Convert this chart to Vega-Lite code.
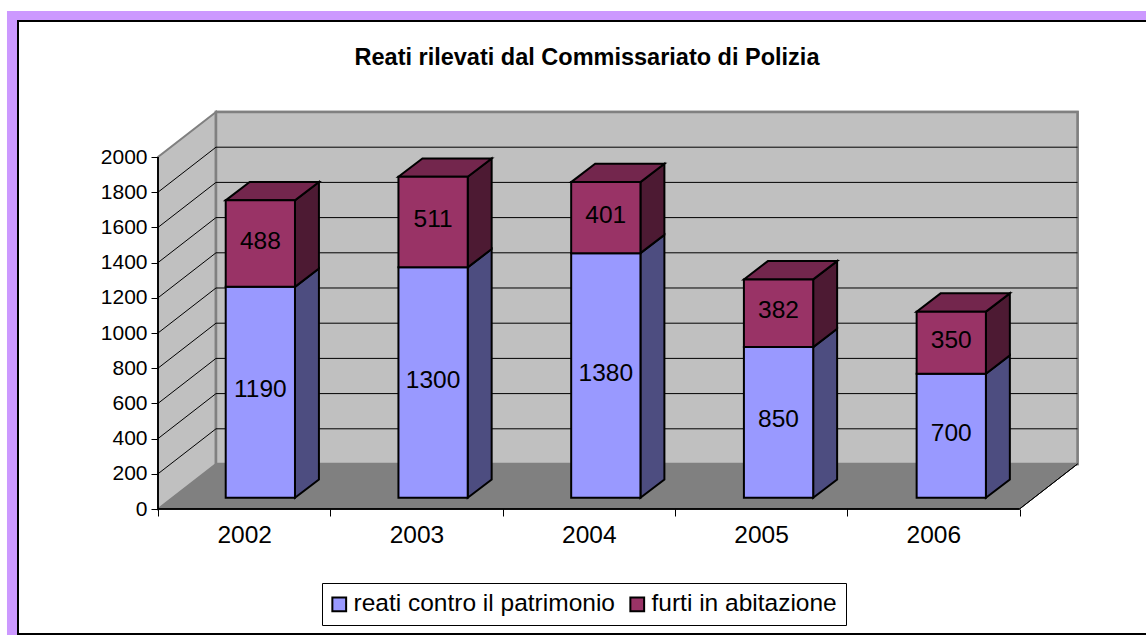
{
"$schema":"https://vega.github.io/schema/vega-lite/v6.json",
"width":920,"height":397,
"autosize":{"type":"none"},
"padding":{"left":158,"top":112,"right":68,"bottom":126},
"background":"white",
"title":{"text":"Reati rilevati dal Commissariato di Polizia","anchor":"middle","frame":"group","dx":-31,"offset":-82,"font":"Liberation Sans","fontSize":23.5,"fontWeight":"bold","color":"black","baseline":"bottom"},
"config":{"view":{"stroke":null},"font":"Liberation Sans","axis":{"labelOverlap":false}},
"datasets":{
"crimes":[
{"year":2002,"series":"reati contro il patrimonio","value":1190},
{"year":2002,"series":"furti in abitazione","value":488},
{"year":2003,"series":"reati contro il patrimonio","value":1300},
{"year":2003,"series":"furti in abitazione","value":511},
{"year":2004,"series":"reati contro il patrimonio","value":1380},
{"year":2004,"series":"furti in abitazione","value":401},
{"year":2005,"series":"reati contro il patrimonio","value":850},
{"year":2005,"series":"furti in abitazione","value":382},
{"year":2006,"series":"reati contro il patrimonio","value":700},
{"year":2006,"series":"furti in abitazione","value":350}],
"depth":[{"p":0},{"p":1}],
"grid":[{"v":200},{"v":400},{"v":600},{"v":800},{"v":1000},{"v":1200},{"v":1400},{"v":1600},{"v":1800}]
},
"layer":[
{"data":{"name":"depth"},"mark":{"type":"rect","fill":"#CC99FF"},
 "encoding":{
  "x":{"datum":-0.8764,"type":"quantitative","scale":{"domain":[0,5.3395],"nice":false,"zero":false},
   "axis":{"title":null,"values":[0,0.5,1,1.5,2,2.5,3,3.5,4,4.5,5],"tickCount":11,"grid":false,"domain":false,"zindex":1,"tickColor":"black","tickSize":{"condition":{"test":"datum.value % 1 == 0","value":7},"value":0},"labelExpr":"datum.value % 1 == 0 ? '' : '' + (2002 + floor(datum.value))","labelFontSize":24.5,"labelColor":"black","labelPadding":14,"labelOverlap":false,"labelFlush":false,"labelAngle":0}},
  "x2":{"datum":5.76},
  "y":{"datum":2829.5,"type":"quantitative","scale":{"domain":[0,2255.7],"nice":false,"zero":false},
   "axis":{"title":null,"values":[0,200,400,600,800,1000,1200,1400,1600,1800,2000],"tickCount":11,"format":"d","grid":false,"domain":false,"zindex":1,"tickColor":"black","tickSize":7,"labelFontSize":21,"labelColor":"black","labelPadding":4,"labelOverlap":false,"labelFlush":false}},
  "y2":{"datum":-730}}},
{"data":{"name":"depth"},"mark":{"type":"rect","fill":"white","stroke":"black","strokeWidth":2},
 "encoding":{"x":{"datum":-0.8125,"type":"quantitative"},"x2":{"datum":5.76},"y":{"datum":2772.7,"type":"quantitative"},"y2":{"datum":-710}}},
{"data":{"name":"depth"},"transform":[{"calculate":"datum.p*0.3366","as":"xx"},{"calculate":"datum.p*255.7","as":"y0"},{"calculate":"2000+datum.p*255.7","as":"y1"}],
 "mark":{"type":"area","fill":"#C0C0C0","stroke":"#808080","strokeWidth":2,"orient":"vertical"},
 "encoding":{"x":{"field":"xx","type":"quantitative"},"y":{"field":"y0","type":"quantitative"},"y2":{"field":"y1"}}},
{"data":{"name":"depth"},"mark":{"type":"rect","fill":"#C0C0C0","stroke":"#808080","strokeWidth":2.5},
 "encoding":{"x":{"datum":0.3366,"type":"quantitative"},"x2":{"datum":5.3366},"y":{"datum":255.7,"type":"quantitative"},"y2":{"datum":2255.7}}},
{"data":{"name":"depth"},"transform":[{"calculate":"datum.p*0.3366","as":"xa"},{"calculate":"5+datum.p*0.3366","as":"xb"},{"calculate":"datum.p*255.7","as":"yy"}],
 "mark":{"type":"area","fill":"#808080","orient":"horizontal"},
 "encoding":{"y":{"field":"yy","type":"quantitative"},"x":{"field":"xa","type":"quantitative"},"x2":{"field":"xb"}}},
{"data":{"name":"grid"},"transform":[{"calculate":"datum.v+255.7","as":"vb"}],"mark":{"type":"rule","stroke":"black","strokeWidth":1},
 "encoding":{"x":{"datum":0,"type":"quantitative"},"x2":{"datum":0.3366},"y":{"field":"v","type":"quantitative"},"y2":{"field":"vb"}}},
{"data":{"name":"grid"},"transform":[{"calculate":"datum.v+255.7","as":"vb"}],"mark":{"type":"rule","stroke":"black","strokeWidth":1},
 "encoding":{"x":{"datum":0.3366,"type":"quantitative"},"x2":{"datum":5.3366},"y":{"field":"vb","type":"quantitative"}}},
{"data":{"name":"depth"},"mark":{"type":"rule","stroke":"black","strokeWidth":1},
 "encoding":{"x":{"datum":5,"type":"quantitative"},"x2":{"datum":5.3366},"y":{"datum":0,"type":"quantitative"},"y2":{"datum":255.7}}},
{"data":{"name":"depth"},"mark":{"type":"rule","stroke":"black","strokeWidth":1.5},
 "encoding":{"x":{"datum":0,"type":"quantitative"},"y":{"datum":0,"type":"quantitative"},"y2":{"datum":2000}}},
{"data":{"name":"depth"},"mark":{"type":"rule","stroke":"black","strokeWidth":1.5},
 "encoding":{"x":{"datum":0,"type":"quantitative"},"x2":{"datum":5},"y":{"datum":0,"type":"quantitative"}}},
{"data":{"name":"crimes"},
 "transform":[
  {"stack":"value","groupby":["year"],"sort":[{"field":"series","order":"descending"}],"as":["s0","s1"]},
  {"calculate":"(datum.year-2002)*1.0025+0.393","as":"x0"},
  {"calculate":"datum.x0+0.402","as":"x1"},
  {"calculate":"datum.s0*1.007+64","as":"b0"},
  {"calculate":"datum.s1*1.007+64","as":"b1"},
  {"calculate":"(datum.b0+datum.b1)/2+11","as":"bm"},
  {"calculate":"(datum.x0+datum.x1)/2","as":"xm"}
 ],
 "layer":[
  {"transform":[{"calculate":"[0,1]","as":"ps"},{"flatten":["ps"],"as":["p"]},{"calculate":"datum.x1+datum.p*0.139","as":"sx"},{"calculate":"datum.b0+datum.p*104","as":"sy0"},{"calculate":"datum.b1+datum.p*104","as":"sy1"},{"filter":"datum.series=='reati contro il patrimonio'"}],
   "mark":{"type":"area","fill":"#4D4D80","stroke":"black","strokeWidth":2,"orient":"vertical"},
   "encoding":{"x":{"field":"sx","type":"quantitative"},"y":{"field":"sy0","type":"quantitative"},"y2":{"field":"sy1"},"detail":{"field":"year"}}},
  {"transform":[{"calculate":"[0,1]","as":"ps"},{"flatten":["ps"],"as":["p"]},{"calculate":"datum.x1+datum.p*0.139","as":"sx"},{"calculate":"datum.b0+datum.p*104","as":"sy0"},{"calculate":"datum.b1+datum.p*104","as":"sy1"},{"filter":"datum.series=='furti in abitazione'"}],
   "mark":{"type":"area","fill":"#4D1A33","stroke":"black","strokeWidth":2,"orient":"vertical"},
   "encoding":{"x":{"field":"sx","type":"quantitative"},"y":{"field":"sy0","type":"quantitative"},"y2":{"field":"sy1"},"detail":{"field":"year"}}},
  {"transform":[{"filter":"datum.series=='furti in abitazione'"},{"calculate":"[0,1]","as":"ps"},{"flatten":["ps"],"as":["p"]},{"calculate":"datum.x0+datum.p*0.139","as":"ta"},{"calculate":"datum.x1+datum.p*0.139","as":"tb"},{"calculate":"datum.b1+datum.p*104","as":"ty"}],
   "mark":{"type":"area","fill":"#73264D","stroke":"black","strokeWidth":2,"orient":"horizontal"},
   "encoding":{"y":{"field":"ty","type":"quantitative"},"x":{"field":"ta","type":"quantitative"},"x2":{"field":"tb"},"detail":{"field":"year"}}},
  {"mark":{"type":"rect","stroke":"black","strokeWidth":2},
   "encoding":{"x":{"field":"x0","type":"quantitative"},"x2":{"field":"x1"},"y":{"field":"b0","type":"quantitative"},"y2":{"field":"b1"},
    "color":{"field":"series","type":"nominal","scale":{"domain":["reati contro il patrimonio","furti in abitazione"],"range":["#9999FF","#993366"]},
     "legend":{"title":null,"orient":"none","legendX":164,"legendY":471,"direction":"horizontal","columns":2,"symbolType":"square","symbolSize":190,"symbolOffset":-4,"symbolStrokeColor":"black","symbolStrokeWidth":2,"labelFontSize":24.5,"labelLimit":400,"labelColor":"black","strokeColor":"black","fillColor":"white","padding":9,"columnPadding":11,"labelOffset":2}}}},
  {"mark":{"type":"text","fontSize":24.5,"color":"black","baseline":"middle","align":"center"},
   "encoding":{"x":{"field":"xm","type":"quantitative"},"y":{"field":"bm","type":"quantitative"},"text":{"field":"value","type":"quantitative","format":"d"}}}
 ]}
]
}
